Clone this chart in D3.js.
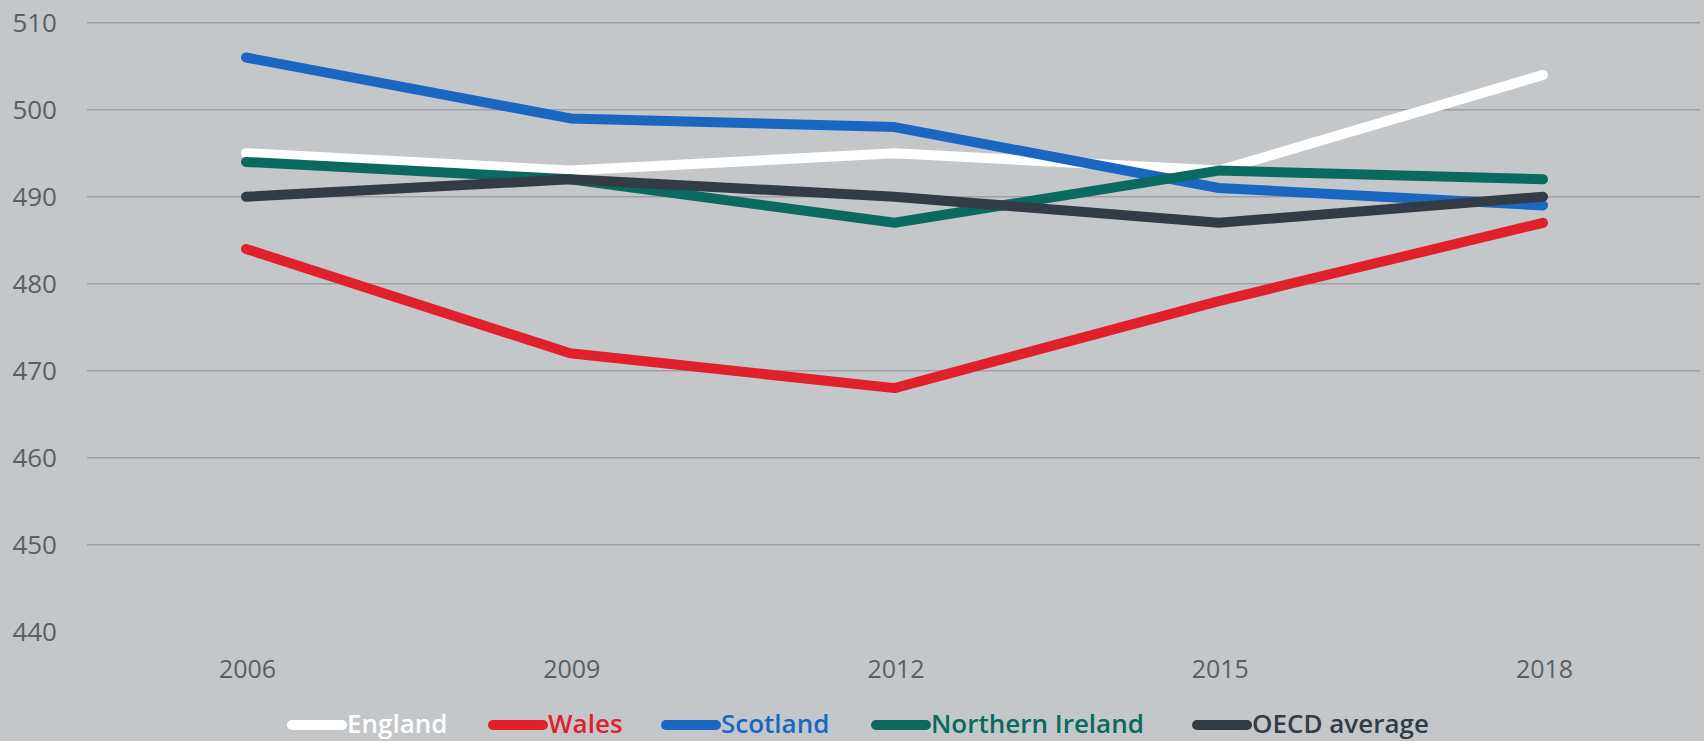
<!DOCTYPE html>
<html><head><meta charset="utf-8">
<script src="https://cdn.jsdelivr.net/npm/d3@7"></script>
<style>
html,body{margin:0;padding:0;background:#c3c7ca;}
svg{display:block;font-family:"Open Sans",sans-serif;}
</style></head><body>
<svg id="c" width="1704" height="741"></svg>
<script>
const years = [2006, 2009, 2012, 2015, 2018];
const yTicks = [440, 450, 460, 470, 480, 490, 500, 510];
const england = [495, 493, 495, 493, 504];
const wales = [484, 472, 468, 478, 487];
const scotland = [506, 499, 498, 491, 489];
const northernIreland = [494, 492, 487, 493, 492];
const oecdAverage = [490, 492, 490, 487, 490];
const seriesNames = ["England", "Wales", "Scotland", "Northern Ireland", "OECD average"];
const seriesColors = ["#ffffff", "#e0202b", "#1a67c2", "#0a6a5d", "#333c44"];
const seriesValues = [england, wales, scotland, northernIreland, oecdAverage];

const svg = d3.select("#c");
svg.append("rect").attr("width",1704).attr("height",741).attr("fill","#c3c7ca");

const x = d3.scaleLinear().domain([2006, 2018]).range([246, 1543]);
const y = d3.scaleLinear().domain([440, 510]).range([631.7, 22.7]);

// gridlines
svg.append("g").selectAll("line").data(yTicks.filter(t => t > 440)).join("line")
  .attr("x1", 87).attr("x2", 1700)
  .attr("y1", d => y(d)).attr("y2", d => y(d))
  .attr("stroke", "#9da1a5").attr("stroke-width", 1.5);

// y axis labels
const yAxis = d3.axisLeft(y).tickValues(yTicks).tickSize(0).tickPadding(0);
const gy = svg.append("g").attr("transform", "translate(57,0)").call(yAxis);
gy.select(".domain").remove();
gy.selectAll("text").attr("font-size", 26).attr("fill", "#5a5f64")
  .attr("font-family", "'Open Sans',sans-serif");

// x axis labels
const xAxis = d3.axisBottom(x).tickValues(years).tickFormat(d3.format("d")).tickSize(0).tickPadding(0);
const gx = svg.append("g").attr("transform", "translate(1,660)").call(xAxis);
gx.select(".domain").remove();
gx.selectAll("text").attr("font-size", 25).attr("fill", "#5a5f64")
  .attr("font-family", "'Open Sans',sans-serif");

// lines
const line = d3.line().x((d, i) => x(years[i])).y(d => y(d));
svg.append("g").selectAll("path").data(seriesValues).join("path")
  .attr("d", d => line(d))
  .attr("fill", "none")
  .attr("stroke", (d, i) => seriesColors[i])
  .attr("stroke-width", 10)
  .attr("stroke-linecap", "round")
  .attr("stroke-linejoin", "round");

// legend
const legendX = [292, 493, 666, 876, 1197];
const lg = svg.append("g").selectAll("g").data(seriesNames).join("g")
  .attr("transform", (d, i) => `translate(${legendX[i]},725)`);
lg.append("line").attr("x1", 0).attr("x2", 50).attr("y1", 0).attr("y2", 0)
  .attr("stroke", (d, i) => seriesColors[i]).attr("stroke-width", 10).attr("stroke-linecap", "round");
lg.append("text").attr("x", 55).attr("y", 8)
  .attr("font-size", 26).attr("font-weight", 600)
  .attr("fill", (d, i) => seriesColors[i])
  .text(d => d);
</script>
</body></html>
